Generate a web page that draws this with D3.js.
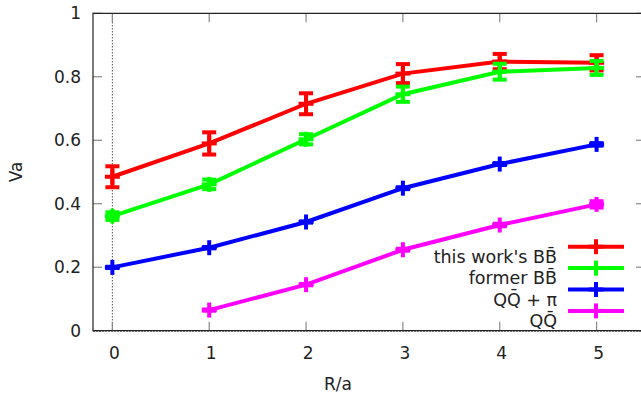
<!DOCTYPE html>
<html>
<head>
<meta charset="utf-8">
<script src="https://cdn.jsdelivr.net/npm/d3@7"></script>
<style>
  body { margin: 0; background: #fff; }
  svg text { font-family: "DejaVu Sans", sans-serif; fill: #222; }
</style>
</head>
<body>
<div id="plot"></div>
<script>
// values
var xVals = [0, 1, 2, 3, 4, 5];
var thisWork = [0.485, 0.590, 0.715, 0.810, 0.848, 0.844];
var thisWorkErr = [0.033, 0.035, 0.033, 0.030, 0.024, 0.024];
var former = [0.361, 0.461, 0.603, 0.745, 0.816, 0.828];
var formerErr = [0.012, 0.015, 0.016, 0.024, 0.025, 0.022];
var qqPi = [0.1995, 0.2615, 0.3425, 0.449, 0.525, 0.587];
var qqPiErr = [0.002, 0.002, 0.002, 0.003, 0.003, 0.004];
var qqX = [1, 2, 3, 4, 5];
var qq = [0.065, 0.145, 0.255, 0.333, 0.398];
var qqErr = [0.002, 0.002, 0.003, 0.004, 0.010];

var xTicks = [0, 1, 2, 3, 4, 5];
var yTicks = [0, 0.2, 0.4, 0.6, 0.8, 1];
var seriesNames = ["this work's BB\u0304", "former BB\u0304", "QQ\u0304 + \u03c0", "QQ\u0304"];
var seriesColors = ["#ff0000", "#00ff00", "#0000ff", "#ff00ff"];

function start(){
    var width = 641, height = 393;
    var svg = d3.select("#plot").append("svg")
                .attr("width", width)
                .attr("height", height);

    var x = d3.scaleLinear().domain([-0.2, 5.5]).range([93, 645]);
    var y = d3.scaleLinear().domain([0, 1]).range([330.7, 13.3]);

    var series = [
        {name: seriesNames[0], color: seriesColors[0], xs: xVals, ys: thisWork, err: thisWorkErr},
        {name: seriesNames[1], color: seriesColors[1], xs: xVals, ys: former, err: formerErr},
        {name: seriesNames[2], color: seriesColors[2], xs: xVals, ys: qqPi, err: qqPiErr},
        {name: seriesNames[3], color: seriesColors[3], xs: qqX, ys: qq, err: qqErr}
    ];

    // dotted zero axis (vertical at x=0)
    svg.append("line")
       .attr("x1", x(0)).attr("x2", x(0))
       .attr("y1", y(1)).attr("y2", y(0))
       .attr("stroke", "#000").attr("stroke-width", 1)
       .attr("stroke-dasharray", "1,2");

    // ticks (inward, mirrored)
    var tickLen = 9;
    var tg = svg.append("g").attr("stroke", "#888").attr("stroke-width", 1.2);
    yTicks.forEach(function(t){
        tg.append("line").attr("x1", x(-0.2)).attr("x2", x(-0.2) + tickLen)
          .attr("y1", y(t)).attr("y2", y(t));
        tg.append("line").attr("x1", x(5.5)).attr("x2", x(5.5) - tickLen)
          .attr("y1", y(t)).attr("y2", y(t));
    });
    xTicks.forEach(function(t){
        tg.append("line").attr("x1", x(t)).attr("x2", x(t))
          .attr("y1", y(0)).attr("y2", y(0) - tickLen);
        tg.append("line").attr("x1", x(t)).attr("x2", x(t))
          .attr("y1", y(1)).attr("y2", y(1) + tickLen);
    });

    // border
    svg.append("path")
       .attr("d", "M" + x(5.5) + "," + y(1) + "H" + x(-0.2) + "V" + y(0) + "H" + x(5.5))
       .attr("fill", "none").attr("stroke", "#222").attr("stroke-width", 1.2);
    svg.append("line")
       .attr("x1", x(-0.2)).attr("x2", x(5.5))
       .attr("y1", y(0)).attr("y2", y(0))
       .attr("stroke", "#222").attr("stroke-width", 1.5)
       .attr("stroke-dasharray", "2,1");

    // tick labels
    svg.selectAll(".ylab").data(yTicks).enter().append("text")
       .attr("x", 81).attr("y", function(d){ return y(d) + 6; })
       .attr("text-anchor", "end").style("font-size", "17px")
       .text(function(d){ return d3.format("~g")(d); });
    svg.selectAll(".xlab").data(xTicks).enter().append("text")
       .attr("x", function(d){ return x(d) + 2; }).attr("y", 359)
       .attr("text-anchor", "middle").style("font-size", "17px")
       .text(function(d){ return d; });

    svg.append("text")
       .attr("x", 338).attr("y", 390)
       .attr("text-anchor", "middle").style("font-size", "17px")
       .text("R/a");
    svg.append("text")
       .attr("transform", "translate(22,172) rotate(-90)")
       .attr("text-anchor", "middle").style("font-size", "17px")
       .text("Va");

    var line = d3.line()
                 .x(function(d){ return x(d[0]); })
                 .y(function(d){ return y(d[1]); });
    var cap = 7, arm = 7.5;

    series.forEach(function(s, k){
        var pts = s.xs.map(function(v, i){ return [v, s.ys[i], s.err[i]]; });
        var g = svg.append("g").attr("stroke", s.color).attr("fill", "none")
                   .attr("stroke-width", 4);
        g.append("path").datum(pts).attr("d", line);
        pts.forEach(function(p){
            var px = x(p[0]), lo = y(p[1] - p[2]), hi = y(p[1] + p[2]);
            g.append("line").attr("x1", px).attr("x2", px).attr("y1", lo).attr("y2", hi);
            g.append("line").attr("x1", px - cap).attr("x2", px + cap).attr("y1", lo).attr("y2", lo);
            g.append("line").attr("x1", px - cap).attr("x2", px + cap).attr("y1", hi).attr("y2", hi);
            // plus marker
            g.append("line").attr("x1", px - arm).attr("x2", px + arm).attr("y1", y(p[1])).attr("y2", y(p[1]));
            g.append("line").attr("x1", px).attr("x2", px).attr("y1", y(p[1]) - arm).attr("y2", y(p[1]) + arm);
        });

        // legend entry
        var ly = 246.7 + k * 21.4;
        var lg = svg.append("g");
        lg.append("line").attr("x1", 568).attr("x2", 624).attr("y1", ly).attr("y2", ly)
          .attr("stroke", s.color).attr("stroke-width", 4);
        lg.append("line").attr("x1", 596 - arm).attr("x2", 596 + arm).attr("y1", ly).attr("y2", ly)
          .attr("stroke", s.color).attr("stroke-width", 4);
        lg.append("line").attr("x1", 596).attr("x2", 596).attr("y1", ly - arm).attr("y2", ly + arm)
          .attr("stroke", s.color).attr("stroke-width", 4);
        lg.append("text").attr("x", 557).attr("y", ly + 16)
          .attr("text-anchor", "end").style("font-size", "17.5px")
          .text(s.name);
    });
}

start()
</script>
</body>
</html>
